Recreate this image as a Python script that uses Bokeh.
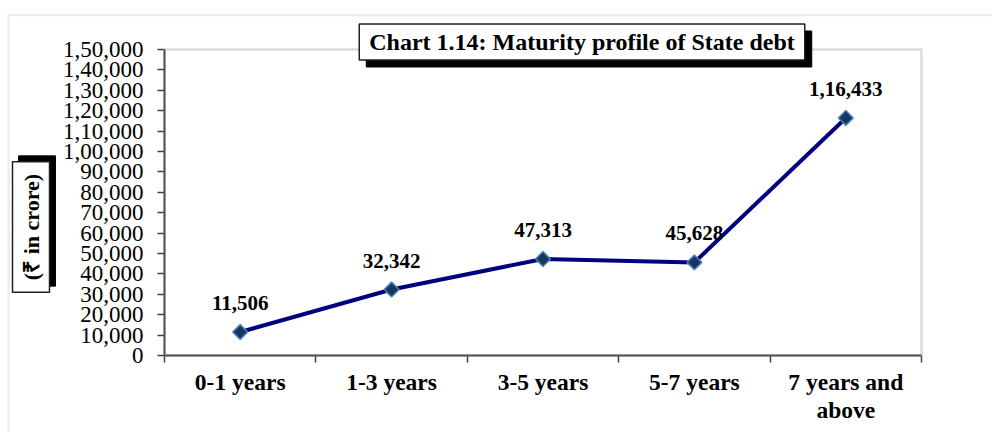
import math
from bokeh.plotting import figure
from bokeh.models import Range1d, FixedTicker, Label, LabelSet, ColumnDataSource, BoxAnnotation
from bokeh.embed import file_html
from bokeh.resources import INLINE

# ---- data ----
categories = ["0-1 years", "1-3 years", "3-5 years", "5-7 years", "7 years and\nabove"]
amounts = [11506, 32342, 47313, 45628, 116433]
y_ticks = list(range(0, 150001, 10000))
title_text = "Chart 1.14: Maturity profile of State debt"
y_title = "(\u20b9 in crore)"


def indian(n):
    s = str(int(n))
    if len(s) <= 3:
        return s
    head, tail = s[:-3], s[-3:]
    parts = []
    while len(head) > 2:
        parts.insert(0, head[-2:])
        head = head[:-2]
    if head:
        parts.insert(0, head)
    return ",".join(parts) + "," + tail


y_tick_labels = [indian(v) for v in y_ticks]
amount_labels = [indian(v) for v in amounts]
x_pos = [i + 0.5 for i in range(len(categories))]
x_bounds = list(range(len(categories) + 1))

FONT = "Liberation Serif"
W, H = 992, 432
# plot-area placement on the canvas (pixels)
PL, PR, PT, PB = 164, 921, 49, 355
YMAX = 150000
NCAT = len(categories)
kx = NCAT / (PR - PL)      # data units per pixel (x)
ky = YMAX / (PB - PT)      # data units per pixel (y)

def dx(px):
    return (px - PL) * kx
def dy(py):
    return (PB - py) * ky

p = figure(width=W, height=H, x_range=Range1d(dx(0), dx(W)), y_range=Range1d(dy(H), dy(0)),
           output_backend="svg", toolbar_location=None, min_border=0)
p.background_fill_color = "white"
p.border_fill_color = "white"
p.outline_line_color = None
p.xgrid.visible = False
p.ygrid.visible = False

# outer light frame
p.add_layout(BoxAnnotation(left=dx(8), right=dx(W + 20), top=dy(14.5), bottom=dy(H + 20),
                           fill_alpha=0, line_color="#c4c4c4", line_width=2.5))
# plot-area border (top / right grey)
p.add_layout(BoxAnnotation(left=0, right=NCAT, bottom=0, top=YMAX,
                           fill_alpha=0, line_color="#868686", line_width=2.5))

# y axis
ya = p.yaxis[0]
ya.fixed_location = 0
ya.bounds = (0, YMAX)
ya.ticker = FixedTicker(ticks=y_ticks)
ya.major_label_overrides = {v: t for v, t in zip(y_ticks, y_tick_labels)}
ya.major_label_text_font = FONT
ya.major_label_text_font_size = "23px"
ya.major_label_text_color = "black"
ya.major_label_standoff = 14
ya.axis_line_color = "#404040"
ya.axis_line_width = 2
ya.major_tick_line_color = "#404040"
ya.major_tick_line_width = 1.5
ya.major_tick_out = 7
ya.major_tick_in = 0
ya.minor_tick_line_color = None

# x axis
xa = p.xaxis[0]
xa.fixed_location = 0
xa.bounds = (0, NCAT)
xa.ticker = FixedTicker(ticks=x_pos, minor_ticks=x_bounds)
xa.major_label_overrides = {x: c for x, c in zip(x_pos, categories)}
xa.major_label_text_font = FONT
xa.major_label_text_font_size = "23.5px"
xa.major_label_text_font_style = "bold"
xa.major_label_text_color = "black"
xa.major_label_text_line_height = 1.08
xa.major_label_standoff = 6
xa.axis_line_color = "#404040"
xa.axis_line_width = 2
xa.major_tick_line_color = None
xa.major_tick_out = 0
xa.major_tick_in = 0
xa.minor_tick_line_color = "#404040"
xa.minor_tick_line_width = 1.5
xa.minor_tick_out = 7
xa.minor_tick_in = 0

# data
src = ColumnDataSource(dict(x=x_pos, y=amounts, lab=amount_labels))
p.line("x", "y", source=src, line_color="#000080", line_width=4)
p.scatter("x", "y", source=src, marker="square", angle=math.pi / 4, size=10.5,
          fill_color="#17375e", line_color="#4f81bd", line_width=1.5)
p.add_layout(LabelSet(x="x", y="y", text="lab", source=src, y_offset=29,
                      text_align="center", text_baseline="middle",
                      text_font=FONT, text_font_size="21px", text_font_style="bold",
                      text_color="black"))

common = dict(text_align="center", text_baseline="middle", text_font=FONT,
              text_color="black", text_font_style="bold")

# title box with shadow
tx, ty = dx(581.5), dy(41.5)
pad = dict(left=10, right=10, top=5, bottom=5)
p.add_layout(Label(x=tx, y=ty, x_offset=7, y_offset=-7, text=title_text,
                   text_font_size="24px", background_fill_color="black",
                   border_line_color="black", padding=pad, **common))
p.add_layout(Label(x=tx, y=ty, text=title_text, text_font_size="24px",
                   background_fill_color="white", border_line_color="#202020",
                   border_line_width=1.5, padding=pad, **common))

# y-axis title box with shadow
lx, ly = dx(30.5), dy(226.5)
pad2 = dict(left=12, right=12, top=6, bottom=6)
p.add_layout(Label(x=lx, y=ly, x_offset=6, y_offset=6, text=y_title, angle=math.pi / 2,
                   text_font_size="22px", background_fill_color="black",
                   border_line_color="black", padding=pad2, **common))
p.add_layout(Label(x=lx, y=ly, text=y_title, angle=math.pi / 2, text_font_size="22px",
                   background_fill_color="white", border_line_color="#202020",
                   border_line_width=1.5, padding=pad2, **common))

open("out.html", "w").write(file_html(p, INLINE))
